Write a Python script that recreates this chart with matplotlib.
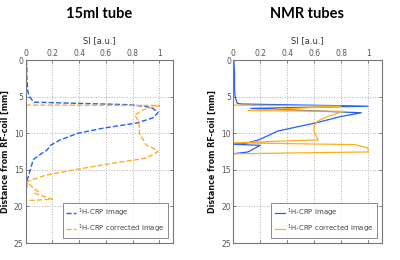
import matplotlib.pyplot as plt

# 15ml tube: SI profile (x) vs distance from RF-coil (y, mm)
tube_img_si = [0.005, 0.01, 0.008, 0.012, 0.015, 0.02, 0.03, 0.05, 0.06, 0.78, 0.9, 0.95,
               0.99, 0.98, 0.95, 0.83, 0.58, 0.39, 0.26, 0.19, 0.16, 0.1, 0.057, 0.027,
               0.01, 0.005, 0.003, 0.002]
tube_img_mm = [0, 1, 2, 3, 4, 4.5, 5.0, 5.5, 5.75, 6.1, 6.35, 6.6,
               7.1, 7.4, 7.9, 8.6, 9.3, 10.0, 10.9, 11.6, 12.3, 13.0, 13.6, 15.5,
               16.5, 18, 20, 25]
tube_cor_si = [0, 1.0, 0.95, 0.88, 0.815, 0.84, 0.85, 0.85, 0.88, 0.9, 0.95, 0.99, 0.9,
               0.58, 0.33, 0.156, 0.01, 0.057, 0.094, 0.07, 0.18, 0.2, 0.01, 0]
tube_cor_mm = [6.15, 6.2, 6.4, 6.8, 7.5, 8.2, 9.1, 10.0, 10.9, 11.6, 12.0, 12.5, 13.4,
               14.3, 15.1, 15.7, 16.6, 17.5, 17.96, 18.2, 18.9, 19.0, 19.2, 19.25]

# NMR tubes
nmr_img_si = [0.005, 0.01, 0.01, 0.013, 0.02, 0.03, 0.06, 1.0, 0.13, 0.95, 0.8, 0.63,
              0.43, 0.33, 0.19, 0.09, 0.0, 0.2, 0.11, 0.0, 0.0]
nmr_img_mm = [0, 2, 4, 4.8, 5.4, 5.9, 6.0, 6.3, 6.6, 7.2, 7.7, 8.5,
              9.3, 9.7, 10.9, 11.4, 11.5, 11.65, 12.55, 12.8, 25]
nmr_cor_si = [0.01, 0.8, 0.11, 0.82, 0.7, 0.63, 0.6, 0.6, 0.61, 0.63, 0.01, 0.9, 1.0,
              1.0, 0.01]
nmr_cor_mm = [6.15, 6.3, 6.9, 7.0, 7.7, 8.3, 8.9, 9.7, 10.2, 10.9, 11.3, 11.55, 12.0,
              12.55, 12.8]

xticks = [0, 0.2, 0.4, 0.6, 0.8, 1]
xticklabels = ['0', '0.2', '0.4', '0.6', '0.8', '1']
yticks = [0, 5, 10, 15, 20, 25]

BLUE = '#2060ff'
ORANGE = '#ffae1a'

fig = plt.figure(figsize=(4, 2.6), dpi=100)
ax1 = fig.add_axes([0.064, 0.065, 0.368, 0.704])
ax2 = fig.add_axes([0.583, 0.065, 0.371, 0.704])

ax1.plot(tube_img_si, tube_img_mm, '--', color=BLUE, lw=1.0, label='$^1$H-CRP image')
ax1.plot(tube_cor_si, tube_cor_mm, '--', color=ORANGE, lw=1.0, label='$^1$H-CRP corrected image')
ax2.plot(nmr_img_si, nmr_img_mm, '-', color=BLUE, lw=0.9, label='$^1$H-CRP image')
ax2.plot(nmr_cor_si, nmr_cor_mm, '-', color=ORANGE, lw=0.9, label='$^1$H-CRP corrected image')

for ax, title in [(ax1, '15ml tube'), (ax2, 'NMR tubes')]:
    ax.set_xlim(0, 1.1)
    ax.set_ylim(25, 0)
    ax.set_xticks(xticks)
    ax.set_xticklabels(xticklabels)
    ax.set_yticks(yticks)
    ax.xaxis.tick_top()
    ax.xaxis.set_label_position('top')
    ax.tick_params(labelsize=5.5, colors='#555555', direction='in', length=2,
                   width=0.5, pad=1.5, top=True, right=True, bottom=True, left=True)
    ax.grid(True, linestyle=':', color='#b0b0b0', linewidth=0.7)
    for s in ax.spines.values():
        s.set_color('#777777')
        s.set_linewidth(0.8)
    ax.set_xlabel('SI [a.u.]', fontsize=6, color='#333333', labelpad=4)
    ax.set_ylabel('Distance from RF-coil [mm]', fontsize=5.8, fontweight='bold',
                  color='#111111')
    ax.yaxis.set_label_coords(-0.11, 0.5)
    leg = ax.legend(loc='lower right', fontsize=5, handlelength=1.4, handletextpad=0.3,
                    frameon=True, fancybox=False, borderaxespad=0.7, labelspacing=0.5,
                    borderpad=0.5)
    leg.get_frame().set_edgecolor('#555555')
    leg.get_frame().set_linewidth(0.6)
    for t in leg.get_texts():
        t.set_color('#444444')
    bb = ax.get_position()
    fig.text((bb.x0 + bb.x1) / 2, 0.945, title, ha='center', va='center',
             fontsize=10.5, fontweight='bold', family='Lato')

fig.savefig('out.png', dpi=100)
